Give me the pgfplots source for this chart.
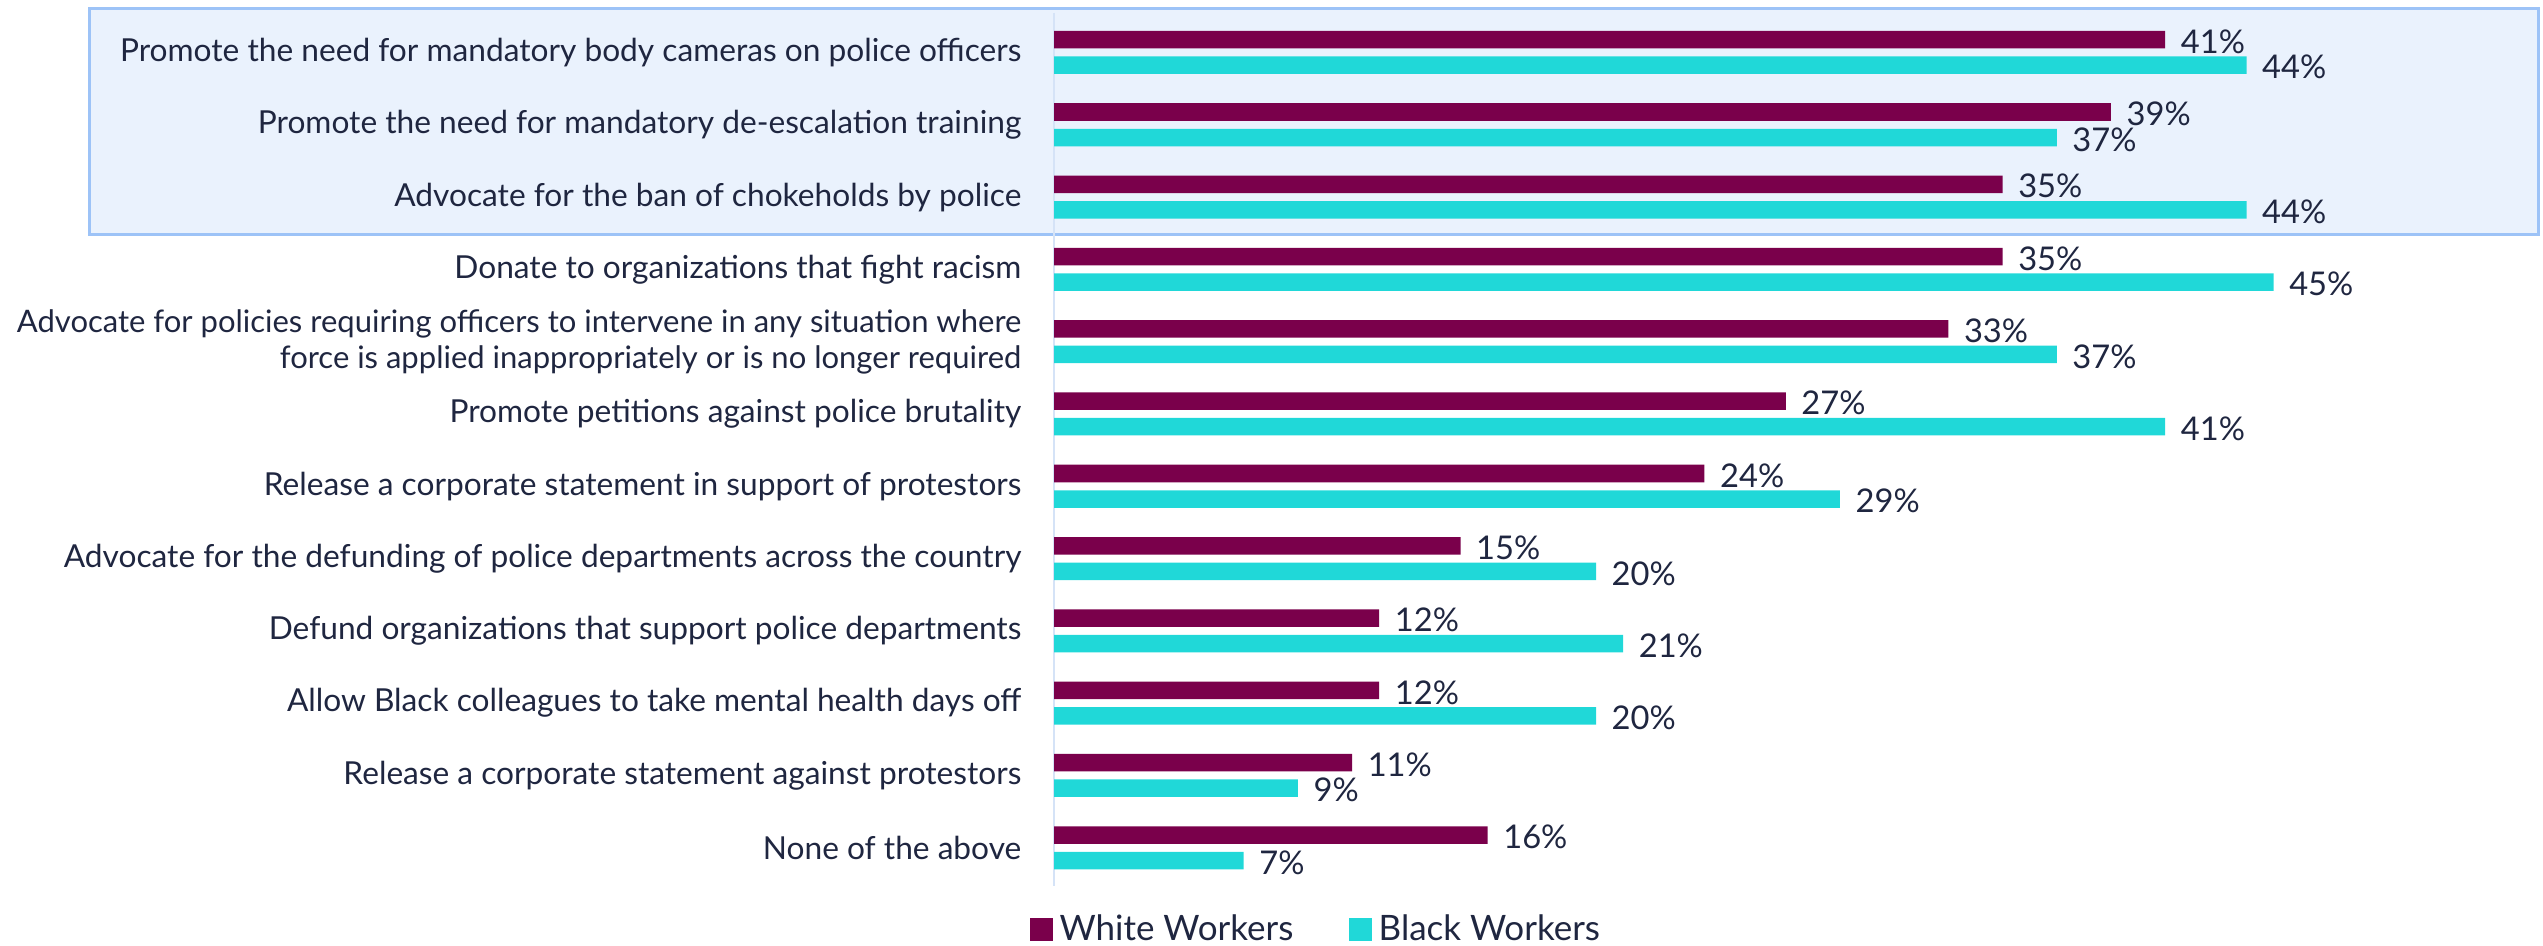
\documentclass[border=0pt]{standalone}
\usepackage{fontspec}
\setmainfont{Lato}
\usepackage{pgfplots}
\usepackage{pgfplotstable}
\pgfplotsset{compat=1.18}
\definecolor{wine}{HTML}{7A004B}
\definecolor{aqua}{HTML}{20D8D8}
\definecolor{txt}{HTML}{1F2640}
\definecolor{boxfill}{HTML}{EAF2FD}
\definecolor{boxline}{HTML}{9DC3F7}
\definecolor{axisline}{HTML}{D5E3F7}
\newcommand\smallfs{\fontsize{9.3}{10.7}\selectfont}

% share of respondents, by category (top to bottom)
\pgfplotstableread{
idx white black
0 41 44
1 39 37
2 35 44
3 35 45
4 33 37
5 27 41
6 24 29
7 15 20
8 12 21
9 12 20
10 11 9
11 16 7
}\datatable

\begin{document}
\begin{tikzpicture}
\begin{axis}[
  set layers,
  scale only axis, width=406.5pt, height=261.9pt,
  xbar, bar width=5.25pt,
  xmin=0, xmax=50, ymin=-0.546, ymax=11.53, y dir=reverse,
  axis x line=none, axis y line=left,
  y axis line style={draw=axisline, line width=0.6pt, -},
  ytick={0,...,11}, major tick length=0pt,
  yticklabels={
    Promote the need for mandatory body cameras on police officers,
    Promote the need for mandatory de-escalation training,
    Advocate for the ban of chokeholds by police,
    Donate to organizations that fight racism,
    {\smallfs Advocate for policies requiring officers to intervene in any situation where\\\smallfs force is applied inappropriately or is no longer required},
    Promote petitions against police brutality,
    Release a corporate statement in support of protestors,
    Advocate for the defunding of police departments across the country,
    Defund organizations that support police departments,
    Allow Black colleagues to take mental health days off,
    Release a corporate statement against protestors,
    None of the above},
  yticklabel style={font=\fontsize{9.5}{10.7}\selectfont, text=txt, align=right, inner sep=0pt, xshift=-9.6pt},
  point meta=x,
  /pgf/number format/assume math mode=true,
  nodes near coords={\pgfmathprintnumber{\pgfplotspointmeta}\%},
  nodes near coords style={font=\fontsize{9.8}{12}\selectfont, text=txt, anchor=west, inner sep=0pt, xshift=4.5pt, yshift=-0.6pt},
  clip=false,
  legend columns=2,
  legend style={draw=none, fill=none, at={(0.195,-0.05)}, anchor=center,
    font=\fontsize{10.5}{12}\selectfont, text=txt,
    /tikz/every even column/.append style={column sep=14.7pt}},
  legend image code/.code={\fill[#1] (0pt,-3.45pt) rectangle (6.9pt,3.45pt);},
]
\begin{pgfonlayer}{axis background}
  \filldraw[fill=boxfill, draw=boxline, line width=0.9pt]
    (axis cs:-35.6,-0.615) rectangle (axis cs:54.76,2.524);
\end{pgfonlayer}
\addplot[fill=wine, draw=none, bar shift=3.83pt] table[x=white, y=idx] {\datatable};
\addlegendentry{White Workers}
\addplot[fill=aqua, draw=none, bar shift=-3.83pt] table[x=black, y=idx] {\datatable};
\addlegendentry{Black Workers}
\coordinate (bbA) at (axis cs:-38.89,12.358);
\coordinate (bbB) at (axis cs:54.94,-0.726);
\end{axis}
\pgfresetboundingbox
\useasboundingbox (bbA) rectangle (bbB);
\end{tikzpicture}
\end{document}
